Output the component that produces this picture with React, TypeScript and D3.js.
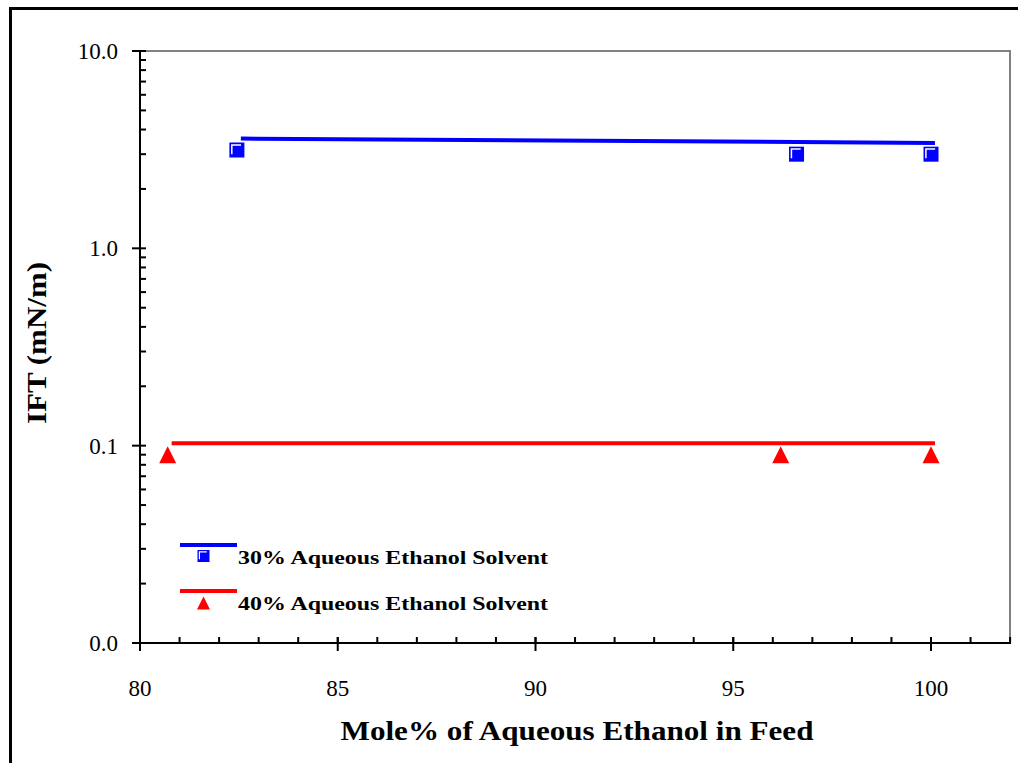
import React from "react";
import * as d3 from "d3";

// Measured IFT points
const solvent30X = [82.45, 96.6, 100];
const solvent30Y = [3.15, 3.0, 3.0];
const solvent40X = [80.7, 96.2, 100];
const solvent40Y = [0.09, 0.09, 0.09];

// Trend line end points
const trend30X = [82.55, 100.1];
const trend30Y = [3.6, 3.42];
const trend40X = [80.8, 100.1];
const trend40Y = [0.103, 0.103];

const xTicks = [80, 85, 90, 95, 100];
const yTicks = [0.01, 0.1, 1, 10];
const yTickLabels = ["0.0", "0.1", "1.0", "10.0"];

const seriesNames = ["30% Aqueous Ethanol Solvent", "40% Aqueous Ethanol Solvent"];
const xTitle = "Mole% of Aqueous Ethanol in Feed";
const yTitle = "IFT (mN/m)";

const BLUE = "#0000ff";
const RED = "#ff0000";
const FONT = "'Liberation Serif', 'Times New Roman', serif";

function Square({ cx, cy, s }: { cx: number; cy: number; s: number }) {
  const h = s / 2;
  const i = s * 0.16;
  return (
    <g>
      <rect x={cx - h} y={cy - h} width={s} height={s} fill={BLUE} />
      <polyline
        points={`${cx - h + i},${cy + h - i * 1.4} ${cx - h + i},${cy - h + i} ${cx + h - i * 1.4},${cy - h + i}`}
        fill="none"
        stroke="#ffffff"
        strokeWidth={Math.max(1, s * 0.1)}
      />
    </g>
  );
}

function Triangle({ cx, cy, s }: { cx: number; cy: number; s: number }) {
  const h = s / 2;
  return <path d={`M${cx},${cy - h} L${cx + h},${cy + h} L${cx - h},${cy + h} Z`} fill={RED} />;
}

export default function App() {
  const W = 1018;
  const H = 763;
  const left = 140;
  const top = 51;
  const bottom = 643;
  const right = 1010;

  const x = d3.scaleLinear().domain([80, 100]).range([left, 931]);
  const y = d3.scaleLog().domain([0.01, 10]).range([bottom, top]);

  const xMinor = d3.range(80, 103, 1).filter((v) => x(v) <= right + 0.5);
  const yMinor: number[] = [];
  [0.01, 0.1, 1].forEach((d) => {
    for (let k = 2; k <= 9; k++) yMinor.push(d * k);
  });

  const line = d3
    .line<[number, number]>()
    .x((d) => x(d[0]))
    .y((d) => y(d[1]));

  const pts30 = solvent30X.map((v, i) => [v, solvent30Y[i]] as [number, number]);
  const pts40 = solvent40X.map((v, i) => [v, solvent40Y[i]] as [number, number]);
  const tr30 = trend30X.map((v, i) => [v, trend30Y[i]] as [number, number]);
  const tr40 = trend40X.map((v, i) => [v, trend40Y[i]] as [number, number]);

  return (
    <svg
      width={W}
      height={H}
      style={{ position: "absolute", left: 0, top: 0, background: "#fff" }}
      fontFamily={FONT}
    >
      {/* outer frame */}
      <rect x={10.5} y={8.5} width={W + 20} height={H + 20} fill="none" stroke="#000" strokeWidth={3} />

      {/* gray plot border, top and right */}
      <polyline
        points={`${left},${top} ${right},${top} ${right},${bottom}`}
        fill="none"
        stroke="#808080"
        strokeWidth={2}
      />

      {/* x axis */}
      <line x1={left} y1={bottom} x2={right + 1} y2={bottom} stroke="#000" strokeWidth={2} />
      {xMinor.map((v) => (
        <line key={"xm" + v} x1={x(v)} x2={x(v)} y1={bottom} y2={bottom - 6} stroke="#000" strokeWidth={2} />
      ))}
      {xTicks.map((v) => (
        <g key={"xt" + v}>
          <line x1={x(v)} x2={x(v)} y1={bottom - 6} y2={bottom + 8} stroke="#000" strokeWidth={2} />
          <text x={x(v)} y={bottom + 53} textAnchor="middle" fontSize={23}>
            {v}
          </text>
        </g>
      ))}

      {/* y axis */}
      <line x1={left} y1={top - 1} x2={left} y2={bottom + 1} stroke="#000" strokeWidth={2} />
      {yMinor.map((v) => (
        <line key={"ym" + v} x1={left} x2={left + 6} y1={y(v)} y2={y(v)} stroke="#000" strokeWidth={2} />
      ))}
      {yTicks.map((v, i) => (
        <g key={"yt" + v}>
          <line x1={left - 8} x2={left + 6} y1={y(v)} y2={y(v)} stroke="#000" strokeWidth={2} />
          <text x={left - 22} y={y(v) + 8} textAnchor="end" fontSize={23}>
            {yTickLabels[i]}
          </text>
        </g>
      ))}

      {/* trend lines */}
      <path d={line(tr30) || ""} fill="none" stroke={BLUE} strokeWidth={4} />
      <path d={line(tr40) || ""} fill="none" stroke={RED} strokeWidth={4} />

      {/* markers */}
      {pts30.map((p, i) => (
        <Square key={"s" + i} cx={x(p[0])} cy={y(p[1])} s={15} />
      ))}
      {pts40.map((p, i) => (
        <Triangle key={"t" + i} cx={x(p[0])} cy={y(p[1])} s={17} />
      ))}

      {/* legend */}
      <line x1={180} x2={237} y1={545} y2={545} stroke={BLUE} strokeWidth={4} />
      <Square cx={203.5} cy={556} s={12} />
      <text x={238} y={564} fontSize={19} fontWeight="bold" textLength={310} lengthAdjust="spacingAndGlyphs">
        {seriesNames[0]}
      </text>
      <line x1={180} x2={237} y1={591} y2={591} stroke={RED} strokeWidth={4} />
      <Triangle cx={203.5} cy={603} s={13} />
      <text x={238} y={610} fontSize={19} fontWeight="bold" textLength={310} lengthAdjust="spacingAndGlyphs">
        {seriesNames[1]}
      </text>

      {/* axis titles */}
      <text
        x={577}
        y={740}
        textAnchor="middle"
        fontSize={27}
        fontWeight="bold"
        textLength={473}
        lengthAdjust="spacingAndGlyphs"
      >
        {xTitle}
      </text>
      <text
        transform={`translate(46,343) rotate(-90)`}
        textAnchor="middle"
        fontSize={27}
        fontWeight="bold"
        textLength={162}
        lengthAdjust="spacingAndGlyphs"
      >
        {yTitle}
      </text>
    </svg>
  );
}
